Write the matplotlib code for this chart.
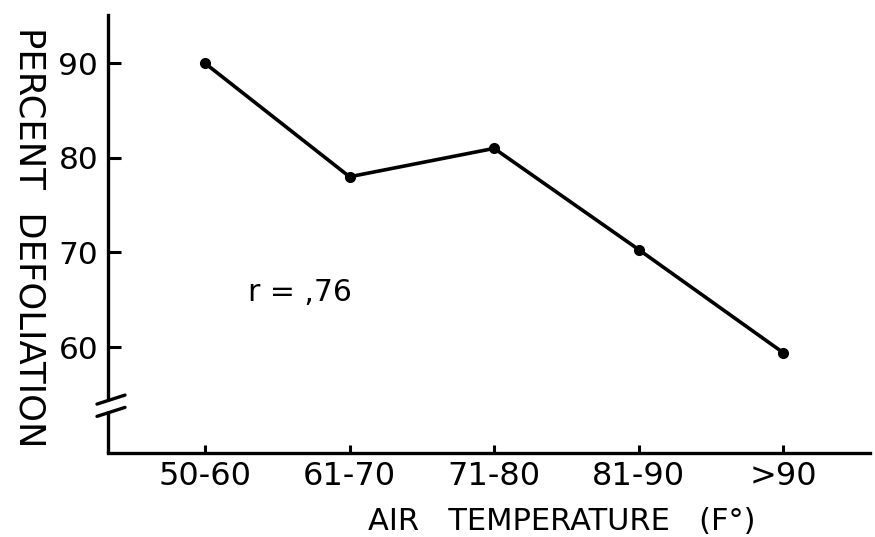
import matplotlib

matplotlib.use("Agg")
import matplotlib.pyplot as plt

# Defoliation by air temperature class
temp_classes = ["50-60", "61-70", "71-80", "81-90", ">90"]
defoliation = [90.0, 78.0, 81.0, 70.3, 59.4]
y_ticks = [60, 70, 80, 90]
r_label = "r = ,76"

plt.rcParams["font.family"] = "DejaVu Sans"

fig = plt.figure(figsize=(8.75, 5.37), dpi=100)
# axes box placed in pixels: left 108, right 870, top 15, bottom 453
W, H = 875, 537
ax = fig.add_axes([108 / W, 1 - 453 / H, (870 - 108) / W, (453 - 15) / H])

xs = list(range(len(temp_classes)))
ax.plot(xs, defoliation, color="black", linewidth=2.6, marker="o", markersize=7,
        solid_capstyle="round")

ymin, ymax = 48.8, 95.1
ax.set_xlim(-0.671, 4.60)
ax.set_ylim(ymin, ymax)

ax.set_xticks(xs)
ax.set_xticklabels(temp_classes, fontsize=23)
ax.set_yticks(y_ticks)
ax.set_yticklabels([str(t) for t in y_ticks], fontsize=22.5)
ax.tick_params(axis="y", direction="in", length=9.5, width=2.2, pad=7)
ax.tick_params(axis="x", direction="in", length=6, width=2.2, pad=6)

for side in ("top", "right"):
    ax.spines[side].set_visible(False)
ax.spines["bottom"].set_linewidth(2.4)
ax.spines["left"].set_linewidth(2.4)

# broken y axis: upper part as spine, short stub below the break
brk_hi, brk_lo = 54.5, 53.2
ax.spines["left"].set_bounds(brk_hi, ymax)
ax.plot([-0.671, -0.671], [ymin, brk_lo], color="black", linewidth=2.4,
        clip_on=False, solid_capstyle="butt")


def frac(v):
    return (v - ymin) / (ymax - ymin)


# two slanted strokes across the gap
dx_l, dx_r = 11 / 762, 17 / 762
drop, lift = 5 / 438, 4 / 438
for yb in (brk_hi, brk_lo):
    f = frac(yb)
    ax.plot([-dx_l, dx_r], [f - drop, f + lift], transform=ax.transAxes,
            color="black", linewidth=2.4, clip_on=False, solid_capstyle="round")

ax.text(0.66, 65.8, r_label, fontsize=21.5, ha="center", va="center")

ax.set_xlabel("AIR   TEMPERATURE   (F°)", fontsize=22)
ax.xaxis.set_label_coords(0.596, -0.123)
ax.set_ylabel("PERCENT  DEFOLIATION", fontsize=25.5, rotation=270, va="center")
ax.yaxis.set_label_coords(-0.103, 0.493)

fig.savefig("out.png", dpi=100)
